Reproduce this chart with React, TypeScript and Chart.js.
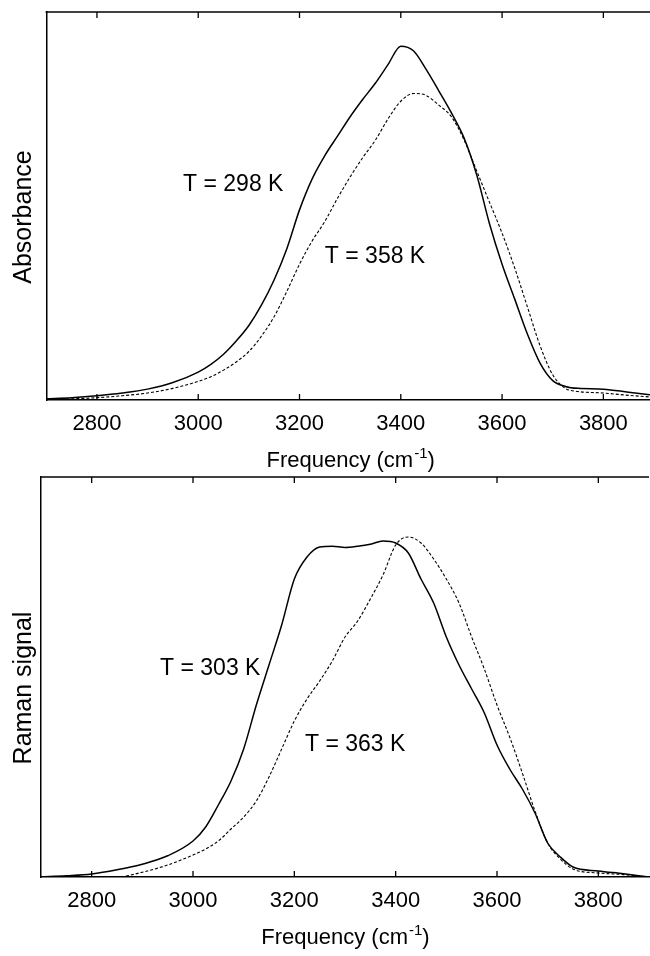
import React, { useEffect, useRef } from "react";
import { Chart, registerables } from "chart.js";

Chart.register(...registerables);

const FONT = "'Liberation Sans', Arial, Helvetica, sans-serif";

// Frequency grid (cm^-1)
const FREQ = [
  2700, 2750, 2800, 2850, 2900, 2950,
  3000, 3025, 3050, 3075, 3100, 3125, 3150, 3175, 3200, 3225, 3250, 3275, 3300, 3325, 3350, 3375,
  3400, 3425, 3450, 3475, 3500, 3525, 3550, 3575, 3600, 3625, 3650, 3675, 3700, 3725, 3750,
  3800, 3850, 3900,
];

// Top panel: IR absorbance
const ABS_298 = [
  0.003, 0.006, 0.011, 0.018, 0.028, 0.045,
  0.072, 0.092, 0.118, 0.152, 0.192, 0.245, 0.31, 0.39, 0.49, 0.57, 0.63, 0.68, 0.73, 0.775, 0.817, 0.865,
  0.912, 0.9, 0.852, 0.797, 0.74, 0.675, 0.58, 0.455, 0.35, 0.26, 0.17, 0.095, 0.05, 0.035, 0.03,
  0.028, 0.02, 0.012,
];
const ABS_358 = [
  0.001, 0.003, 0.006, 0.011, 0.018, 0.03,
  0.048, 0.06, 0.077, 0.098, 0.125, 0.165, 0.215, 0.28, 0.35, 0.41, 0.46, 0.52, 0.575, 0.625, 0.67, 0.725,
  0.77, 0.79, 0.785, 0.76, 0.73, 0.67, 0.59, 0.51, 0.43, 0.34, 0.24, 0.14, 0.065, 0.03, 0.022,
  0.018, 0.012, 0.007,
];

// Bottom panel: Raman signal
const RAMAN_303 = [
  0.0, 0.003, 0.0075, 0.018, 0.032, 0.053,
  0.09, 0.125, 0.18, 0.24, 0.32, 0.43, 0.53, 0.63, 0.745, 0.8, 0.825, 0.827, 0.824, 0.827, 0.832, 0.84,
  0.835, 0.81, 0.745, 0.685, 0.6, 0.53, 0.47, 0.41, 0.33, 0.27, 0.22, 0.16, 0.085, 0.05, 0.025,
  0.015, 0.008, 0.0,
];
const RAMAN_363 = [
  0.0, 0.0, 0.0, 0.0, 0.012, 0.03,
  0.055, 0.07, 0.09, 0.12, 0.15, 0.19, 0.25, 0.32, 0.39, 0.445, 0.49, 0.54, 0.6, 0.64, 0.695, 0.755,
  0.83, 0.85, 0.835, 0.795, 0.745, 0.685, 0.6, 0.52, 0.43, 0.35, 0.26, 0.165, 0.085, 0.045, 0.02,
  0.01, 0.006, 0.0,
];

const X_TICKS = [2800, 3000, 3200, 3400, 3600, 3800];
const X_MIN = 2700;
const X_MAX = 3900;

const TOP_LABELS = [
  { text: "T = 298 K", x: 2970, y: 0.554 },
  { text: "T = 358 K", x: 3250, y: 0.369 },
];
const BOTTOM_LABELS = [
  { text: "T = 303 K", x: 2935, y: 0.52 },
  { text: "T = 363 K", x: 3221, y: 0.33 },
];

const framePlugin = {
  id: "frame",
  afterDraw(chart: any, _args: any, opts: any) {
    const { ctx, chartArea: ca, scales } = chart;
    const xs = scales.x;
    const ys = scales.y;
    ctx.save();
    ctx.strokeStyle = "#000";
    ctx.lineWidth = 1.5;
    ctx.beginPath();
    ctx.moveTo(ca.left - 0.75, ca.top);
    ctx.lineTo(ca.right, ca.top);
    ctx.stroke();
    ctx.lineWidth = 1.3;
    for (const v of X_TICKS) {
      const px = xs.getPixelForValue(v);
      ctx.beginPath();
      ctx.moveTo(px, ca.bottom);
      ctx.lineTo(px, ca.bottom - 6);
      ctx.moveTo(px, ca.top);
      ctx.lineTo(px, ca.top + 6);
      ctx.stroke();
    }
    ctx.fillStyle = "#000";
    // y-axis title (rotated)
    ctx.save();
    ctx.translate(24, (ca.top + ca.bottom) / 2 + 11);
    ctx.rotate(-Math.PI / 2);
    ctx.textAlign = "center";
    ctx.textBaseline = "middle";
    ctx.font = `25px ${FONT}`;
    ctx.fillText(opts.yTitle, 0, 0);
    ctx.restore();
    // x-axis title with superscript
    ctx.textBaseline = "alphabetic";
    ctx.textAlign = "left";
    const main = "Frequency (cm";
    const sup = "-1";
    const close = ")";
    ctx.font = `22px ${FONT}`;
    const w1 = ctx.measureText(main).width;
    const w3 = ctx.measureText(close).width;
    ctx.font = `15px ${FONT}`;
    const w2 = ctx.measureText(sup).width;
    let x = (ca.left + ca.right) / 2 - (w1 + w2 + w3) / 2;
    const by = ca.bottom + 66.5;
    ctx.font = `22px ${FONT}`;
    ctx.fillText(main, x, by);
    x += w1;
    ctx.font = `15px ${FONT}`;
    ctx.fillText(sup, x + 1, by - 9);
    x += w2 + 1;
    ctx.font = `22px ${FONT}`;
    ctx.fillText(close, x, by);
    // curve labels
    ctx.textBaseline = "middle";
    ctx.font = `23px ${FONT}`;
    for (const l of opts.labels || []) {
      ctx.fillText(l.text, xs.getPixelForValue(l.x), ys.getPixelForValue(l.y));
    }
    ctx.restore();
  },
};

function makeConfig(
  solid: number[],
  dashed: number[],
  yTitle: string,
  labels: any[],
  padding: any,
  yWidth: number,
  xHeight: number
): any {
  return {
    type: "line",
    data: {
      datasets: [
        {
          data: FREQ.map((f, i) => ({ x: f, y: solid[i] })),
          borderColor: "#000",
          borderWidth: 1.5,
          pointRadius: 0,
          cubicInterpolationMode: "monotone",
          fill: false,
        },
        {
          data: FREQ.map((f, i) => ({ x: f, y: dashed[i] })),
          borderColor: "#000",
          borderWidth: 1.1,
          borderDash: [3, 2],
          pointRadius: 0,
          cubicInterpolationMode: "monotone",
          fill: false,
        },
      ],
    },
    options: {
      responsive: false,
      animation: false,
      devicePixelRatio: 1,
      layout: { padding },
      plugins: {
        legend: { display: false },
        tooltip: { enabled: false },
        frame: { labels, yTitle },
      },
      scales: {
        x: {
          type: "linear",
          min: X_MIN,
          max: X_MAX,
          grid: { display: false, drawTicks: false },
          border: { display: true, color: "#000", width: 1.5 },
          ticks: {
            color: "#000",
            font: { size: 22, family: FONT },
            padding: 11,
            maxRotation: 0,
            autoSkip: false,
            callback: (v: any) => String(v),
          },
          afterBuildTicks: (scale: any) => {
            scale.ticks = X_TICKS.map((v) => ({ value: v }));
          },
          afterFit: (scale: any) => {
            scale.height = xHeight;
          },
        },
        y: {
          type: "linear",
          min: 0,
          max: 1,
          grid: { display: false, drawTicks: false },
          border: { display: true, color: "#000", width: 1.5 },
          ticks: { display: false },
          title: { display: false },
          afterFit: (scale: any) => {
            scale.width = yWidth;
          },
        },
      },
    },
    plugins: [framePlugin],
  };
}

export default function App() {
  const topRef = useRef<HTMLCanvasElement>(null);
  const botRef = useRef<HTMLCanvasElement>(null);

  useEffect(() => {
    const top = new Chart(
      topRef.current as HTMLCanvasElement,
      makeConfig(ABS_298, ABS_358, "Absorbance", TOP_LABELS, { left: 0, top: 12, right: 46, bottom: 0 }, 46.3, 76)
    );
    const bot = new Chart(
      botRef.current as HTMLCanvasElement,
      makeConfig(RAMAN_303, RAMAN_363, "Raman signal", BOTTOM_LABELS, { left: 0, top: 1, right: 51, bottom: 0 }, 41, 79)
    );
    return () => {
      top.destroy();
      bot.destroy();
    };
  }, []);

  return (
    <div
      style={{
        position: "fixed",
        left: 0,
        top: 0,
        width: 650,
        height: 956,
        overflow: "hidden",
        background: "#fff",
      }}
    >
      <canvas
        ref={topRef}
        width={700}
        height={476}
        style={{ position: "absolute", left: 0, top: 0, width: 700, height: 476 }}
      />
      <canvas
        ref={botRef}
        width={700}
        height={480}
        style={{ position: "absolute", left: 0, top: 476, width: 700, height: 480 }}
      />
    </div>
  );
}
